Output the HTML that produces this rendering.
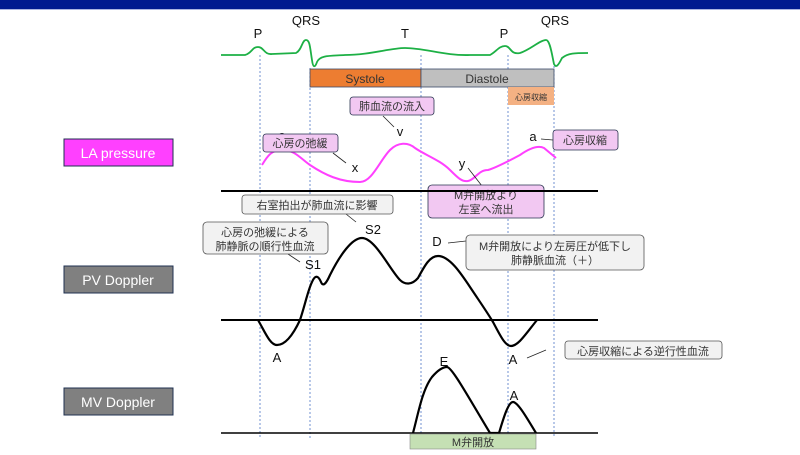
<!DOCTYPE html>
<html><head><meta charset="utf-8"><style>
body{margin:0;width:800px;height:450px;overflow:hidden;background:#fff}
text{font-family:"Liberation Sans","Noto Sans CJK JP",sans-serif}
</style></head><body>
<svg width="800" height="450" viewBox="0 0 800 450" xmlns="http://www.w3.org/2000/svg">
<rect x="0" y="0" width="800" height="9" fill="#001A8F"/>
<rect x="0" y="9" width="800" height="1" fill="#AAB4E0"/>
<g stroke="#7090D0" stroke-width="1" stroke-dasharray="2,2">
<line x1="260" y1="55" x2="260" y2="438"/>
<line x1="310" y1="68" x2="310" y2="438"/>
<line x1="421" y1="55" x2="421" y2="438"/>
<line x1="508" y1="55" x2="508" y2="438"/>
<line x1="554" y1="66" x2="554" y2="438"/>
</g>
<path d="M221,55 L245,55 C252,53 252,47 258,47 C264,47 264,55 272,54 L296,53 C302,50 302,40 306,40 C310,40 310,48 312,60 C313,68 315,68 317,62 C320,55 330,56 345,55 C370,55 390,48 405,48 C425,48 445,56 470,55 L490,55 C496,52 499,46 505,46 C511,46 510,55 520,53 C530,50 540,40 546,40 C550,40 552,55 554,64 C556,68 558,66 562,58 C568,53 575,53 588,53" fill="none" stroke="#1DB045" stroke-width="1.8"/>
<rect x="310" y="69" width="111" height="18" fill="#ED7D31" stroke="#3A4A6A" stroke-width="0.8"/>
<rect x="421" y="69" width="133" height="18" fill="#BFBFBF" stroke="#3A4A6A" stroke-width="0.8"/>
<rect x="508" y="87" width="46" height="18" fill="#F4B183"/>
<text x="365" y="83" font-size="12" text-anchor="middle" fill="#333">Systole</text>
<text x="487" y="83" font-size="12" text-anchor="middle" fill="#333">Diastole</text>
<text x="531" y="100" font-size="8" text-anchor="middle" fill="#333">心房収縮</text>
<g font-size="13" fill="#111" text-anchor="middle">
<text x="258" y="38">P</text><text x="306" y="25">QRS</text><text x="405" y="38">T</text><text x="504" y="38">P</text><text x="555" y="25">QRS</text>
</g>
<rect x="64" y="139" width="109" height="27" fill="#FF40FF" stroke="#1F3050" stroke-width="1"/>
<text x="118" y="158" font-size="14" fill="#fff" text-anchor="middle">LA pressure</text>
<rect x="64" y="266" width="109" height="27" fill="#808080" stroke="#1F3050" stroke-width="1"/>
<text x="118" y="285" font-size="14" fill="#fff" text-anchor="middle">PV Doppler</text>
<rect x="64" y="388" width="109" height="27" fill="#808080" stroke="#1F3050" stroke-width="1"/>
<text x="118" y="407" font-size="14" fill="#fff" text-anchor="middle">MV Doppler</text>
<path d="M262,165 C268,155 272,150 282,150 C295,150 300,158 310,165 C325,175 340,182 360,182 C372,182 380,160 390,150 C398,142 408,142 415,148 C425,155 440,160 450,170 C458,178 462,182 468,181 C475,180 478,170 488,170 C495,168 505,163 520,155 C530,148 538,145 544,148 L556,158" fill="none" stroke="#FF40FF" stroke-width="2"/>
<g stroke="#222" stroke-width="0.8">
<line x1="333" y1="153" x2="346" y2="163"/><line x1="383" y1="116" x2="394" y2="127"/><line x1="468" y1="168" x2="482" y2="186"/><line x1="541" y1="139" x2="553" y2="140"/>
<line x1="346" y1="214" x2="356" y2="222"/><line x1="288" y1="254" x2="300" y2="262"/><line x1="448" y1="243" x2="466" y2="241"/><line x1="527" y1="358" x2="546" y2="350"/>
</g>
<g font-size="13" fill="#111" text-anchor="middle">
<text x="282" y="140">a</text><text x="400" y="136">v</text><text x="355" y="172">x</text><text x="462" y="168">y</text><text x="533" y="141">a</text>
<text x="313" y="269">S1</text><text x="373" y="234">S2</text><text x="437" y="246">D</text>
<text x="277" y="362">A</text><text x="513" y="364">A</text><text x="444" y="366">E</text><text x="514" y="400">A</text>
</g>
<g fill="#F2C8F2" stroke="#2A3550" stroke-width="0.8">
<rect x="263" y="134" width="75" height="18" rx="3"/>
<rect x="350" y="97" width="84" height="18" rx="3"/>
<rect x="553" y="130" width="65" height="20" rx="3"/>
<rect x="428" y="185" width="116" height="33" rx="4"/>
</g>
<g font-size="11" fill="#333" text-anchor="middle">
<text x="300" y="147">心房の弛緩</text><text x="392" y="110">肺血流の流入</text><text x="585" y="144">心房収縮</text>
<text x="486" y="199">M弁開放より</text><text x="486" y="213">左室へ流出</text>
</g>
<line x1="221" y1="191" x2="598" y2="191" stroke="#000" stroke-width="2"/>
<line x1="221" y1="320" x2="598" y2="320" stroke="#000" stroke-width="2"/>
<line x1="221" y1="433" x2="598" y2="433" stroke="#000" stroke-width="1.5"/>
<g fill="#F2F2F2" stroke="#555" stroke-width="0.8">
<rect x="242" y="195" width="151" height="19" rx="3"/>
<rect x="203" y="222" width="125" height="32" rx="4"/>
<rect x="466" y="235" width="178" height="35" rx="4"/>
<rect x="565" y="341" width="157" height="18" rx="3"/>
</g>
<g font-size="11" fill="#333" text-anchor="middle">
<text x="317" y="209">右室拍出が肺血流に影響</text>
<text x="265" y="236">心房の弛緩による</text><text x="265" y="250">肺静脈の順行性血流</text>
<text x="555" y="250">M弁開放により左房圧が低下し</text><text x="555" y="264">肺静脈血流（＋）</text>
<text x="643" y="355">心房収縮による逆行性血流</text>
</g>
<path d="M258,320 C265,332 270,345 277,345 C285,345 293,335 300,320 C305,305 308,290 312,282 C315,275 318,275 321,282 C323,287 326,284 330,275 C340,255 352,238 362,238 C375,238 390,270 400,280 C405,285 412,285 418,278 C425,265 430,256 438,256 C450,256 462,275 472,290 C480,302 487,312 493,322 C500,335 505,346 511,346 C518,346 525,335 537,320" fill="none" stroke="#000" stroke-width="2.2"/>
<path d="M413,433 C418,415 422,390 432,377 C438,370 443,367 447,367 C452,367 470,400 490,433 L499,433 C503,420 508,402 513,402 C518,402 528,420 536,433" fill="none" stroke="#000" stroke-width="2.2"/>
<rect x="410" y="434" width="126" height="15" fill="#C5E0B4" stroke="#888" stroke-width="0.6"/>
<text x="473" y="446" font-size="11" fill="#333" text-anchor="middle">M弁開放</text>
</svg>
</body></html>
